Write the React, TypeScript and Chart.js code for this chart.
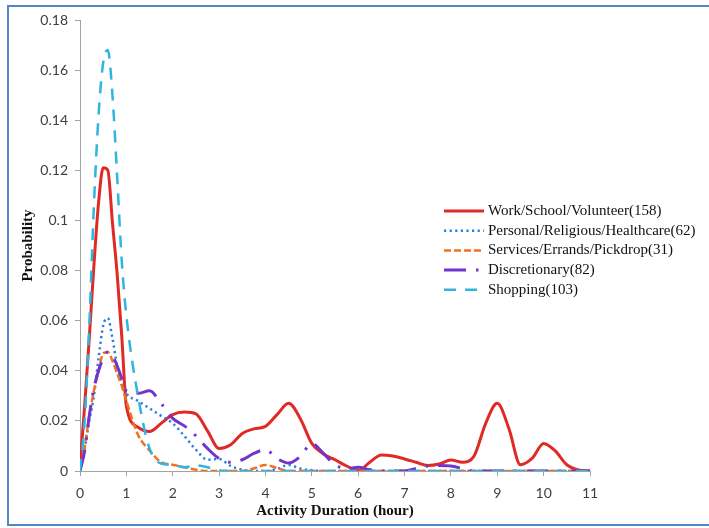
import React, { useEffect, useRef } from "react";
import { Chart, registerables } from "chart.js";

Chart.register(...registerables);

// Activity duration grid (hours) shared by every curve
const hours = [
  0, 0.1, 0.2, 0.3, 0.4, 0.5, 0.6, 0.7, 0.8, 0.9, 1,
  1.25, 1.5, 1.75, 2, 2.25, 2.5, 2.75, 3, 3.25, 3.5, 3.75, 4,
  4.25, 4.5, 4.75, 5, 5.25, 5.5, 5.75, 6, 6.25, 6.5, 6.75, 7,
  7.25, 7.5, 7.75, 8, 8.25, 8.5, 8.75, 9, 9.25, 9.5, 9.75, 10,
  10.25, 10.5, 10.75, 11,
];

const workSchoolVolunteer = [
  0.002, 0.026, 0.053, 0.082, 0.107, 0.121, 0.12, 0.099, 0.079, 0.054, 0.026,
  0.0175, 0.0158, 0.019, 0.0225, 0.0235, 0.0228, 0.016, 0.009, 0.0105, 0.015, 0.0168, 0.0178,
  0.0225, 0.027, 0.021, 0.011, 0.0068, 0.0045, 0.002, 0.0002, 0.0035, 0.0064, 0.006, 0.0048,
  0.0035, 0.0022, 0.0028, 0.0044, 0.0035, 0.006, 0.019, 0.027, 0.017, 0.0025, 0.005, 0.011,
  0.008, 0.0025, 0.0004, 0,
];

const personalReligiousHealthcare = [
  0, 0.009, 0.02, 0.03, 0.045, 0.058, 0.061, 0.053, 0.042, 0.035, 0.031,
  0.028, 0.025, 0.022, 0.019, 0.014, 0.0085, 0.0045, 0.0048, 0.002, 0.0005, 0, 0,
  0.0008, 0.0024, 0.001, 0.0003, 0, 0, 0, 0, 0, 0, 0, 0,
  0, 0, 0, 0, 0, 0, 0, 0, 0, 0, 0, 0,
  0, 0, 0, 0,
];

const servicesErrandsPickdrop = [
  0, 0.009, 0.022, 0.032, 0.04, 0.047, 0.0475, 0.044, 0.039, 0.034, 0.028,
  0.0145, 0.0082, 0.0035, 0.0025, 0.0015, 0.0005, 0, 0, 0, 0, 0.001, 0.0024,
  0.0012, 0, 0, 0, 0, 0, 0, 0, 0, 0, 0, 0,
  0, 0, 0, 0, 0, 0, 0, 0, 0, 0, 0, 0,
  0, 0, 0, 0,
];

const discretionary = [
  0, 0.008, 0.022, 0.033, 0.04, 0.045, 0.0475, 0.046, 0.042, 0.037, 0.032,
  0.031, 0.032, 0.027, 0.021, 0.018, 0.014, 0.009, 0.005, 0.0035, 0.0045, 0.007, 0.0085,
  0.005, 0.0032, 0.0058, 0.011, 0.007, 0.0025, 0.001, 0.0015, 0.0005, 0, 0, 0,
  0.001, 0.002, 0.0022, 0.002, 0.001, 0, 0, 0, 0, 0, 0, 0,
  0, 0, 0, 0,
];

const shopping = [
  0, 0.02, 0.058, 0.106, 0.142, 0.163, 0.168, 0.15, 0.118, 0.084, 0.062,
  0.03, 0.009, 0.003, 0.0025, 0.0015, 0.0022, 0.0015, 0.0002, 0, 0, 0, 0,
  0, 0, 0, 0, 0, 0, 0, 0, 0, 0, 0, 0,
  0, 0, 0, 0, 0, 0, 0, 0, 0, 0, 0, 0,
  0, 0, 0, 0,
];

const seriesLabels = [
  "Work/School/Volunteer(158)",
  "Personal/Religious/Healthcare(62)",
  "Services/Errands/Pickdrop(31)",
  "Discretionary(82)",
  "Shopping(103)",
];

const xTickLabels = ["0", "1", "2", "3", "4", "5", "6", "7", "8", "9", "10", "11"];
const yTickLabels = ["0", "0.02", "0.04", "0.06", "0.08", "0.1", "0.12", "0.14", "0.16", "0.18"];

const axisGray = "#a3a3a3";
const tickFont = { family: "Lato, 'Liberation Sans', sans-serif", size: 14 };
const titleFont = { family: "'Liberation Serif', 'Times New Roman', serif", size: 15, weight: "bold" as const };

// Legend drawn inside the plot, to the right of the peaks
const insideLegend = {
  id: "insideLegend",
  afterDraw(chart: Chart) {
    const ctx = chart.ctx;
    const lineX0 = 444;
    const lineX1 = 484;
    const textX = 488;
    const firstY = 211;
    const rowGap = 19.7;
    ctx.save();
    chart.data.datasets.forEach((ds: any, i: number) => {
      const y = firstY + i * rowGap;
      ctx.beginPath();
      ctx.setLineDash(ds.borderDash || []);
      ctx.lineDashOffset = 0;
      ctx.strokeStyle = ds.borderColor;
      ctx.lineWidth = ds.borderWidth;
      ctx.lineCap = "butt";
      ctx.moveTo(lineX0, y);
      ctx.lineTo(lineX1, y);
      ctx.stroke();
      ctx.setLineDash([]);
      ctx.fillStyle = "#111111";
      ctx.font = "15px 'Liberation Serif', 'Times New Roman', serif";
      ctx.textAlign = "left";
      ctx.textBaseline = "middle";
      ctx.fillText(ds.label, textX, y);
    });
    ctx.restore();
  },
};

export default function App() {
  const canvasRef = useRef<HTMLCanvasElement | null>(null);

  useEffect(() => {
    const canvas = canvasRef.current;
    if (!canvas) return;

    const toPoints = (values: number[]) => hours.map((h, i) => ({ x: h, y: values[i] }));

    const chart = new Chart(canvas, {
      type: "line",
      data: {
        datasets: [
          {
            label: seriesLabels[0],
            data: toPoints(workSchoolVolunteer),
            borderColor: "#df2a26",
            borderWidth: 3,
            borderDash: [],
            order: 5,
          },
          {
            label: seriesLabels[1],
            data: toPoints(personalReligiousHealthcare),
            borderColor: "#2f7de3",
            borderWidth: 2.5,
            borderDash: [2.2, 3.4],
            order: 4,
          },
          {
            label: seriesLabels[2],
            data: toPoints(servicesErrandsPickdrop),
            borderColor: "#f2711c",
            borderWidth: 2.5,
            borderDash: [7, 3],
            order: 3,
          },
          {
            label: seriesLabels[3],
            data: toPoints(discretionary),
            borderColor: "#7234cc",
            borderWidth: 3,
            borderDash: [22, 10, 2.5, 10],
            order: 2,
          },
          {
            label: seriesLabels[4],
            data: toPoints(shopping),
            borderColor: "#2fb5e0",
            borderWidth: 2.5,
            borderDash: [12, 9],
            order: 1,
          },
        ] as any,
      },
      options: {
        responsive: false,
        animation: false,
        events: [],
        layout: { padding: { top: 20, right: 119, bottom: 0, left: 0 } },
        elements: {
          point: { radius: 0 },
          line: { cubicInterpolationMode: "monotone", fill: false },
        },
        plugins: {
          legend: { display: false },
          tooltip: { enabled: false },
        },
        scales: {
          x: {
            type: "linear",
            min: 0,
            max: 11,
            afterFit: (scale: any) => {
              scale.height = 57;
            },
            afterBuildTicks: (scale: any) => {
              scale.ticks = xTickLabels.map((t) => ({ value: Number(t) }));
            },
            ticks: {
              color: "#404040",
              font: tickFont,
              padding: 9,
              maxRotation: 0,
              callback: (v: any) => xTickLabels[xTickLabels.indexOf(String(v))] ?? "",
            },
            grid: {
              drawOnChartArea: false,
              drawTicks: true,
              tickLength: 5,
              color: axisGray,
            },
            border: { color: axisGray, width: 1 },
            title: {
              display: true,
              text: "Activity Duration (hour)",
              color: "#111111",
              font: titleFont,
              padding: { top: 0, bottom: 8 },
            },
          },
          y: {
            type: "linear",
            min: 0,
            max: 0.18,
            afterFit: (scale: any) => {
              scale.width = 80;
            },
            afterBuildTicks: (scale: any) => {
              scale.ticks = yTickLabels.map((t) => ({ value: Number(t) }));
            },
            ticks: {
              color: "#404040",
              font: tickFont,
              padding: 7,
              callback: (v: any) => {
                const s = String(Math.round(Number(v) * 100) / 100);
                return yTickLabels.includes(s) ? s : "";
              },
            },
            grid: {
              drawOnChartArea: false,
              drawTicks: true,
              tickLength: 5,
              color: axisGray,
            },
            border: { color: axisGray, width: 1 },
            title: {
              display: true,
              text: "Probability",
              color: "#111111",
              font: titleFont,
              padding: { top: 19, bottom: 0 },
            },
          },
        },
      },
      plugins: [insideLegend],
    });

    return () => chart.destroy();
  }, []);

  return (
    <div style={{ position: "fixed", left: 0, top: 0, width: 709, height: 528, background: "#ffffff", overflow: "hidden" }}>
      <canvas ref={canvasRef} width={709} height={528} style={{ position: "absolute", left: 0, top: 0 }} />
      <div
        style={{
          position: "absolute",
          left: 7,
          top: 5,
          width: 720,
          height: 517,
          border: "2px solid #5286c8",
          pointerEvents: "none",
        }}
      />
    </div>
  );
}
